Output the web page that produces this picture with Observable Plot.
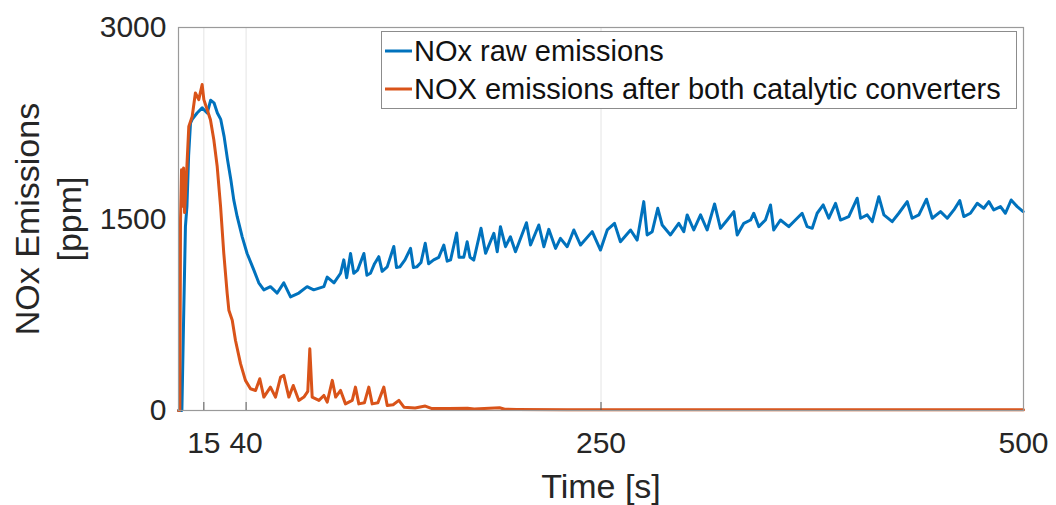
<!DOCTYPE html>
<html>
<head>
<meta charset="utf-8">
<script src="https://cdn.jsdelivr.net/npm/d3@7"></script>
<script src="https://cdn.jsdelivr.net/npm/@observablehq/plot@0.6"></script>
<style>
  html, body { margin: 0; padding: 0; background: #fff; }
  #chart { width: 1056px; height: 505px; }
</style>
</head>
<body>
<div id="chart"></div>
<script>
// ---- Data ----
const xTicks = [15, 40, 250, 500];
const yTicks = [0, 1500, 3000];
const seriesNames = ["NOx raw emissions", "NOX emissions after both catalytic converters"];
const seriesColors = ["#0072BD", "#D95319"];

// NOx raw emissions (time [s], ppm)
const rawTime = [0, 2, 3, 4.1, 5, 6, 7.1, 8.1, 11, 14, 17, 19, 21, 23, 25, 27, 29, 31, 32.7, 34.7, 37.7, 40.6, 44.6, 47.5, 50.5, 54.4, 58.4, 62.3, 66.3, 71.2, 76.1, 80, 86, 88, 92, 95.9, 97.8, 99.5, 101.8, 103.7, 106, 109.7, 111.5, 113.6, 116, 118.5, 120.5, 123.5, 127.4, 129, 131, 134, 137.3, 139, 141, 143.5, 146, 148, 151, 154, 157, 159, 161, 164.6, 166, 168.8,
  170.8, 172.5, 174.7, 179, 181.7, 186.6, 188.6, 190.5, 193.5, 196.4, 199.4, 205.9, 208.3, 213.2, 216.2, 219.1, 223.1, 226, 230, 233.9, 237.9, 244.8, 249.7, 253.7, 258, 261.5, 267.5, 271.4, 275.3, 277.3, 280.3, 283.6, 286.2, 291.1, 296, 299, 301, 304.9, 308.9, 312.8, 317.2, 320.7, 324.7, 328.6, 330.6, 334.5, 338.5,
  340.4, 343.4, 347.3, 350.3, 352.2, 356.2, 361.1, 364, 369, 372, 375, 377.9, 381.5, 384.8, 388.8, 391.7, 396.6, 401.6, 403.6, 407.5, 410.5, 414.4, 417.4, 422.3, 426.2, 431.2, 434.1, 438.1, 442.6, 446, 450.9, 454.9, 458.8, 462.3, 464.7, 468.6, 472.6, 476.5, 479.5, 482.4, 486.4, 489.3, 492.7, 496.3, 499.8];
const rawValue = [0, 0, 700, 1440, 1600, 2000, 2250, 2280, 2330, 2370, 2330, 2430, 2410, 2330, 2280, 2145, 1965, 1805, 1650, 1520, 1360, 1230, 1100, 1000, 945, 970, 920, 1000, 890, 920, 970, 945, 970, 1045, 1000, 1075, 1180, 1040, 1230, 1075, 1100, 1230, 1060, 1075, 1150, 1205, 1090, 1125, 1285, 1120, 1125, 1180, 1270, 1120, 1125, 1160, 1310, 1150, 1180, 1200, 1295, 1170, 1180, 1390, 1200, 1200,
  1322, 1200, 1178, 1427, 1231, 1388, 1243, 1440, 1283, 1361, 1243, 1471, 1296, 1453, 1283, 1419, 1270, 1348, 1283, 1414, 1296, 1401, 1257, 1414, 1466, 1322, 1414, 1335, 1636, 1375, 1401, 1584, 1453, 1375, 1466, 1401, 1532, 1414, 1532, 1414, 1618, 1427, 1492, 1558, 1375, 1466, 1492,
  1545, 1440, 1492, 1610, 1414, 1492, 1440, 1479, 1545, 1440, 1427, 1545, 1610, 1506, 1623, 1492, 1519, 1663, 1506, 1532, 1479, 1675, 1532, 1479, 1545, 1636, 1506, 1532, 1655, 1506, 1558, 1506, 1571, 1644, 1519, 1545, 1623, 1584, 1636, 1571, 1597, 1545, 1649, 1597, 1558];

// NOX emissions after both catalytic converters (time [s], ppm)
const afterTime = [0, 0.8, 1.2, 1.8, 2.4, 3.0, 3.6, 4.2, 6.1, 8.1, 10, 12, 14, 15, 17, 18.9, 20.9, 22.9, 24.9, 26.8, 28.8, 29.8, 31.8, 33.7, 36.7, 39.6, 42.6, 45.6, 48.1, 50.5, 54.4, 57.4, 60.4, 62.3, 65.3, 67.9, 71.2, 74.2, 76.5, 77.7, 79.1, 83.1, 86, 88, 91, 93, 95.9, 98.8, 102.8, 104.7, 106.7, 110, 112.6, 114.6, 118, 121.5, 123.5, 127, 130.4, 133.4, 140, 146, 150, 160, 171, 175, 190, 193, 200, 230, 260, 300, 350, 400, 450, 500];
const afterValue = [0, 0, 1500, 1885, 1600, 1900, 1550, 1700, 2225, 2303, 2487, 2435, 2553, 2435, 2356, 2278, 2121, 1911, 1597, 1231, 917, 786, 707, 550, 367, 236, 170, 157, 249, 105, 183, 105, 262, 275, 105, 196, 79, 105, 150, 484, 105, 79, 118, 65, 236, 105, 157, 52, 79, 183, 52, 60, 183, 52, 60, 183, 39, 45, 79, 26, 20, 35, 15, 15, 18, 12, 22, 10, 8, 6, 5, 5, 5, 5, 5, 5];

// ---- Build tables ----
const rawData = rawTime.map((t, i) => ({t, v: rawValue[i]}));
const afterData = afterTime.map((t, i) => ({t, v: afterValue[i]}));

const W = 1056, H = 505;
const mL = 178, mR = 33, mT = 27, mB = 95;
const font = "'Liberation Sans', Arial, Helvetica, sans-serif";

const chart = Plot.plot({
  width: W,
  height: H,
  marginLeft: mL,
  marginRight: mR,
  marginTop: mT,
  marginBottom: mB,
  style: {fontFamily: font, fontSize: "30px", color: "#262626", background: "#fff", overflow: "visible"},
  x: {domain: [0, 500], ticks: xTicks},
  y: {domain: [0, 3000], ticks: yTicks},
  marks: [
    Plot.ruleX(xTicks.filter(d => d < 500), {stroke: "#e4e4e4", strokeWidth: 1}),
    Plot.line(rawData, {x: "t", y: "v", stroke: seriesColors[0], strokeWidth: 3, strokeLinejoin: "round"}),
    Plot.line(afterData, {x: "t", y: "v", stroke: seriesColors[1], strokeWidth: 3, strokeLinejoin: "round"}),
    Plot.frame({stroke: "#9a9a9a", strokeWidth: 1.2}),
    Plot.ruleX(xTicks.filter(d => d < 500), {stroke: "#555", strokeWidth: 1, insetTop: H - mT - mB - 8}),
    Plot.axisX({ticks: xTicks, tickSize: 0, tickPadding: 21, label: null, tickFormat: d => String(d)}),
    Plot.axisY({ticks: yTicks, tickSize: 0, tickPadding: 12, label: null, tickFormat: d => String(d)}),
    Plot.text(["Time [s]"], {frameAnchor: "bottom", lineAnchor: "middle", dy: 77, fontSize: 34, fill: "#262626"})
  ]
});

document.getElementById("chart").appendChild(chart);

// ---- Y-axis title (two lines, rotated) and legend ----
const svg = d3.select(chart);
const yTitle = [["NOx Emissions", 27], ["[ppm]", 69]];
yTitle.forEach(([txt, cx]) => {
  svg.append("text")
    .attr("transform", `translate(${cx},219) rotate(-90)`)
    .attr("text-anchor", "middle")
    .attr("dominant-baseline", "central")
    .attr("font-family", font)
    .attr("font-size", 34)
    .attr("fill", "#262626")
    .text(txt);
});

const lg = svg.append("g");
lg.append("rect")
  .attr("x", 381.5).attr("y", 31.5).attr("width", 635).attr("height", 77)
  .attr("fill", "#fff").attr("stroke", "#8c8c8c").attr("stroke-width", 1);
seriesNames.forEach((name, i) => {
  const cy = 51 + i * 38;
  lg.append("line")
    .attr("x1", 385).attr("x2", 412).attr("y1", cy).attr("y2", cy)
    .attr("stroke", seriesColors[i]).attr("stroke-width", 3);
  lg.append("text")
    .attr("x", 414).attr("y", cy)
    .attr("text-anchor", "start")
    .attr("dominant-baseline", "central")
    .attr("font-family", font)
    .attr("font-size", 29)
    .attr("fill", "#111")
    .text(name);
});
</script>
</body>
</html>
